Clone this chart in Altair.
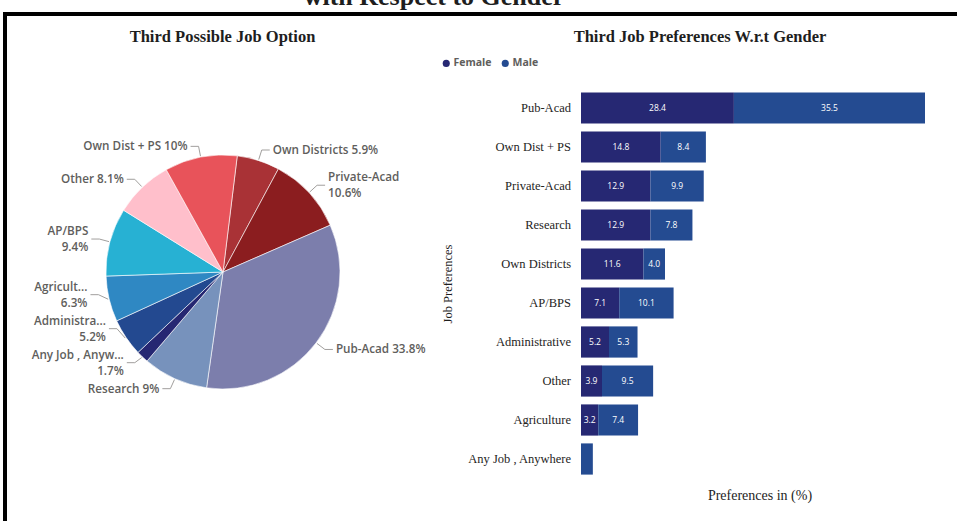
import math
import altair as alt
import pandas as pd

# ---------------- data ----------------
pie_jobs = ["Own Districts", "Private-Acad", "Pub-Acad", "Research", "Any Job , Anywhere",
            "Administrative", "Agriculture", "AP/BPS", "Other", "Own Dist + PS"]
pie_share = [5.9, 10.6, 33.8, 9.0, 1.7, 5.2, 6.3, 9.4, 8.1, 10.0]
pie_labels = ["Own Districts 5.9%", "Private-Acad\n10.6%", "Pub-Acad 33.8%", "Research 9%",
              "Any Job , Anyw...\n1.7%", "Administra...\n5.2%", "Agricult...\n6.3%",
              "AP/BPS\n9.4%", "Other 8.1%", "Own Dist + PS 10%"]
pie_colors = ["#A93236", "#8B1D1F", "#7C7EAC", "#7792BC", "#262772",
              "#234990", "#2F88C3", "#27B1D3", "#FFBFCB", "#E8535A"]

bar_jobs = ["Pub-Acad", "Own Dist + PS", "Private-Acad", "Research", "Own Districts",
            "AP/BPS", "Administrative", "Other", "Agriculture", "Any Job , Anywhere"]
female = [28.4, 14.8, 12.9, 12.9, 11.6, 7.1, 5.2, 3.9, 3.2, 0.0]
male = [35.5, 8.4, 9.9, 7.8, 4.0, 10.1, 5.3, 9.5, 7.4, 2.2]
genders = ["Female", "Male"]
gender_colors = ["#262873", "#244B91"]

main_title = "with Respect to Gender"
pie_title = "Third Possible Job Option"
bar_title = "Third Job Preferences W.r.t Gender"
y_title = "Job Preferences"
x_title = "Preferences in (%)"

# ---------------- layout constants ----------------
W, H = 957, 521
CX, CY, R = 223, 272, 117
START = math.radians(7)
LEADER = "#A19F9D"
LABEL_GREY = "#605E5C"
SERIF = "Liberation Serif"
SANS = "Open Sans"
LFS = 11.7        # pie label font size
LH = 16           # pie label line height
PAD = 2           # min gap between pie labels
BAR_X0, BAR_X1 = 581, 925
BAR_Y0, BAR_Y1 = 84.6, 482.4

one = pd.DataFrame({"a": [0]})

# ---------------- pie ----------------
pie_df = pd.DataFrame({"job": pie_jobs, "share": pie_share, "label": pie_labels,
                       "k": list(range(len(pie_jobs)))})
pbase = alt.Chart(pie_df)

arcs = pbase.mark_arc(outerRadius=R, stroke="white", strokeWidth=0.6).encode(
    x=alt.value(CX), y=alt.value(CY),
    theta=alt.Theta("share:Q", stack=True,
                    scale=alt.Scale(range=[START, START + 2 * math.pi])),
    order=alt.Order("k:Q"),
    color=alt.Color("job:N", scale=alt.Scale(domain=pie_jobs, range=pie_colors), legend=None),
)

geo = pbase.transform_joinaggregate(total="sum(share)").transform_window(
    cum="sum(share)", sort=[alt.SortField("k")], frame=[None, 0]
).transform_calculate(
    mid=f"{START} + 2*PI*(datum.cum - datum.share/2)/datum.total"
).transform_calculate(
    s="sin(datum.mid)", c="cos(datum.mid)"
).transform_calculate(
    side="datum.s >= 0 ? 1 : -1",
    x1=f"{CX} + {R + 1}*datum.s", y1=f"{CY} - {R + 1}*datum.c",
    x2=f"{CX} + {R + 11}*datum.s", y2=f"{CY} - {R + 11}*datum.c",
    nl="length(split(datum.label, '\\n'))",
).transform_calculate(
    x3="datum.x2 + datum.side*8",
    h=f"datum.nl*{LH}",
    u="datum.side*datum.y2",
).transform_calculate(
    lx="datum.x3 + datum.side*3",
).transform_window(
    hprev="lag(h)", groupby=["side"], sort=[alt.SortField("u")]
).transform_calculate(
    gap=f"isValid(datum.hprev) ? (datum.h + datum.hprev)/2 + {PAD} : 0"
).transform_window(
    G="sum(gap)", groupby=["side"], sort=[alt.SortField("u")], frame=[None, 0]
).transform_calculate(
    t="datum.u - datum.G"
).transform_window(
    tmax="max(t)", groupby=["side"], sort=[alt.SortField("u")], frame=[None, 0]
).transform_calculate(
    ya="datum.side*(datum.tmax + datum.G)"
).transform_calculate(
    ty=f"datum.ya - (datum.nl - 1)*{LH}/2"
)

radial = geo.mark_rule(color=LEADER, strokeWidth=1).encode(
    x=alt.X("x1:Q", scale=None), y=alt.Y("y1:Q", scale=None), x2="x2:Q", y2="ya:Q")
horiz = geo.mark_rule(color=LEADER, strokeWidth=1).encode(
    x=alt.X("x2:Q", scale=None), y=alt.Y("ya:Q", scale=None), x2="x3:Q")
lab_r = geo.transform_filter("datum.side > 0").mark_text(
    align="left", baseline="middle", lineBreak="\n", lineHeight=LH, font=SANS,
    fontSize=LFS, fontWeight=600, color=LABEL_GREY).encode(
    x=alt.X("lx:Q", scale=None), y=alt.Y("ty:Q", scale=None), text="label:N")
lab_l = geo.transform_filter("datum.side < 0").mark_text(
    align="right", baseline="middle", lineBreak="\n", lineHeight=LH, font=SANS,
    fontSize=LFS, fontWeight=600, color=LABEL_GREY).encode(
    x=alt.X("lx:Q", scale=None), y=alt.Y("ty:Q", scale=None), text="label:N")

pie = alt.layer(arcs, radial, horiz, lab_r, lab_l)

# ---------------- bars ----------------
rows = []
for j, f, m in zip(bar_jobs, female, male):
    rows.append({"job": j, "gender": "Female", "g": 0, "value": f})
    rows.append({"job": j, "gender": "Male", "g": 1, "value": m})
bar_df = pd.DataFrame(rows)

bbase = alt.Chart(bar_df).transform_stack(
    stack="value", groupby=["job"], sort=[alt.SortField("g")], as_=["v0", "v1"]
).transform_calculate(vm="(datum.v0 + datum.v1)/2")

xs = alt.Scale(range=[BAR_X0, BAR_X1], nice=False, zero=True)
ys = alt.Scale(domain=bar_jobs, range=[BAR_Y0, BAR_Y1], paddingInner=0.2, paddingOuter=0.2)

bars = bbase.transform_filter("datum.value > 0").mark_bar().encode(
    x=alt.X("v0:Q", scale=xs, axis=None), x2="v1:Q",
    y=alt.Y("job:N", scale=ys, axis=None),
    color=alt.Color("gender:N", scale=alt.Scale(domain=genders, range=gender_colors),
                    legend=alt.Legend(orient="none", legendX=441, legendY=58,
                                      direction="horizontal", title=None,
                                      symbolType="circle", symbolSize=50,
                                      symbolStrokeWidth=0, labelFont=SANS,
                                      labelFontSize=10.5, labelFontWeight=700,
                                      labelColor=LABEL_GREY, labelOffset=2,
                                      columnPadding=8, padding=0)),
)
seg_text = bbase.transform_filter("datum.value >= 3").mark_text(
    color="white", font=SANS, fontSize=8.5).encode(
    x=alt.X("vm:Q", scale=xs, axis=None), y=alt.Y("job:N", scale=ys, axis=None),
    text=alt.Text("value:Q", format=".1f"))
ylabels = alt.Chart(pd.DataFrame({"job": bar_jobs})).mark_text(
    align="right", baseline="middle", font=SERIF, fontSize=12.5, color="#252423").encode(
    x=alt.value(571), y=alt.Y("job:N", scale=ys, axis=None), text="job:N")

barpart = alt.layer(bars, seg_text, ylabels)

# ---------------- titles / frame ----------------
def label(txt, x, y, size, weight="normal", angle=0, baseline="middle"):
    kw = dict(text=txt, font=SERIF, fontSize=size, fontWeight=weight, color="#1E1E1E",
              align="center", baseline=baseline)
    if angle:
        kw["angle"] = angle
    return alt.Chart(one).mark_text(**kw).encode(x=alt.value(x), y=alt.value(y))

t_main = label(main_title, 434, 5, 26, "bold", baseline="alphabetic")
t_pie = label(pie_title, 222.5, 37, 16.5, "bold")
t_bar = label(bar_title, 700, 37, 16.5, "bold")
t_y = label(y_title, 448, 284, 12.5, angle=270)
t_x = label(x_title, 760, 496, 14)

frame_top = alt.Chart(one).mark_rule(color="black", strokeWidth=4).encode(
    x=alt.value(3), x2=alt.value(W + 5), y=alt.value(14))
frame_left = alt.Chart(one).mark_rule(color="black", strokeWidth=4).encode(
    x=alt.value(5), y=alt.value(12), y2=alt.value(H + 5))

chart = alt.layer(
    frame_top, frame_left, pie, barpart, t_main, t_pie, t_bar, t_y, t_x
).resolve_scale(
    x="independent", y="independent", color="independent", theta="independent"
).properties(
    width=W, height=H, autosize="none", padding=0, background="white"
).configure_view(stroke=None)

chart.save("out.html", embed_options={"renderer": "svg", "actions": False})
